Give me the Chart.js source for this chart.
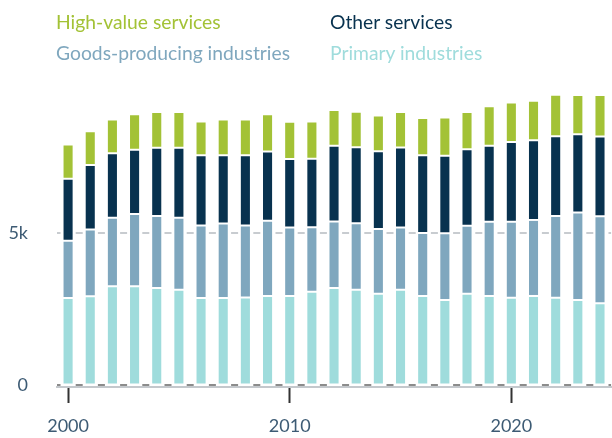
<!DOCTYPE html>
<html>
<head>
<meta charset="utf-8">
<script src="https://cdn.jsdelivr.net/npm/chart.js@4.4.1/dist/chart.umd.min.js"></script>
<style>
  html, body { margin: 0; padding: 0; background: #fff; }
  #wrap { position: relative; width: 612px; height: 438px; }
  #chart { position: absolute; left: 0; top: 0; }
  .leg { position: absolute; font-family: Lato, sans-serif; font-size: 19.3px; line-height: 19px; white-space: nowrap; }
</style>
</head>
<body>
<div id="wrap">
  <canvas id="chart" width="612" height="438"></canvas>
  <div class="leg" style="left:56px; top:12px; color:#a3c236;">High-value services</div>
  <div class="leg" style="left:330px; top:12px; color:#08324f;">Other services</div>
  <div class="leg" style="left:56px; top:43px; color:#7fa7be;">Goods-producing industries</div>
  <div class="leg" style="left:330px; top:43px; color:#9fdcdc;">Primary industries</div>
</div>
<script>
let anos = [];
for (let a = 2000; a <= 2024; a++) anos.push(String(a));

let primarias = [2860, 2920, 3250, 3250, 3190, 3130, 2860, 2860, 2880, 2930, 2930, 3070, 3190, 3130, 3000, 3130, 2930, 2800, 3000, 2930, 2870, 2930, 2870, 2800, 2690];
let bens = [1880, 2190, 2240, 2360, 2360, 2360, 2380, 2440, 2360, 2460, 2240, 2110, 2180, 2180, 2120, 2040, 2060, 2180, 2230, 2430, 2490, 2490, 2680, 2860, 2850];
let outros = [2030, 2110, 2110, 2110, 2230, 2290, 2300, 2240, 2300, 2270, 2240, 2240, 2480, 2490, 2550, 2620, 2550, 2540, 2500, 2490, 2610, 2610, 2610, 2560, 2610];
let altoValor = [1120, 1100, 1110, 1160, 1170, 1170, 1100, 1170, 1170, 1220, 1220, 1220, 1170, 1160, 1170, 1160, 1220, 1250, 1220, 1290, 1290, 1290, 1360, 1290, 1360];

let ticksY = [0, 5000];
let rotulosX = ['2000', '2010', '2020'];

let corTexto = '#3d5b74';

function serie(label, data, cor) {
    return {
        label: label,
        data: data,
        backgroundColor: cor,
        borderColor: '#ffffff',
        borderWidth: 1,
        borderSkipped: false,
        barPercentage: 0.5,
        categoryPercentage: 1
    };
}

new Chart(document.getElementById('chart'), {
    type: 'bar',
    data: {
        labels: anos,
        datasets: [
            serie('Primary industries', primarias, '#9fdcdc'),
            serie('Goods-producing industries', bens, '#7fa7be'),
            serie('Other services', outros, '#08324f'),
            serie('High-value services', altoValor, '#a3c236')
        ]
    },
    options: {
        responsive: false,
        animation: false,
        layout: { padding: { top: 80, right: 0, left: 0, bottom: 0 } },
        plugins: {
            legend: { display: false },
            tooltip: { enabled: false }
        },
        scales: {
            x: {
                stacked: true,
                offset: true,
                afterFit: (axis) => { axis.height = 51; },
                border: { display: true, color: '#c4c8cc', width: 2 },
                grid: {
                    offset: false,
                    drawOnChartArea: false,
                    drawTicks: true,
                    tickLength: 16,
                    tickWidth: 2,
                    tickColor: (ctx) => rotulosX.includes(anos[ctx.index]) ? '#333333' : 'rgba(0,0,0,0)'
                },
                ticks: {
                    autoSkip: false,
                    maxRotation: 0,
                    padding: 12,
                    color: corTexto,
                    font: { family: 'Lato', size: 18 },
                    callback: function (v, i) {
                        return rotulosX.includes(anos[i]) ? anos[i] : '';
                    }
                }
            },
            y: {
                stacked: true,
                min: -50,
                max: 10000,
                afterBuildTicks: (axis) => { axis.ticks = ticksY.map(v => ({ value: v })); },
                afterFit: (axis) => { axis.width = 57; },
                border: { display: false, dash: [7, 15.2], dashOffset: 3.5 },
                grid: {
                    drawTicks: false,
                    lineWidth: 2,
                    color: (ctx) => ctx.tick && ctx.tick.value === 0 ? '#8c8c8c' : '#c8ccd0'
                },
                ticks: {
                    padding: 29,
                    color: corTexto,
                    font: { family: 'Lato', size: 18 },
                    callback: (v) => v === 0 ? '0' : (v / 1000) + 'k'
                }
            }
        }
    }
});
</script>
</body>
</html>
